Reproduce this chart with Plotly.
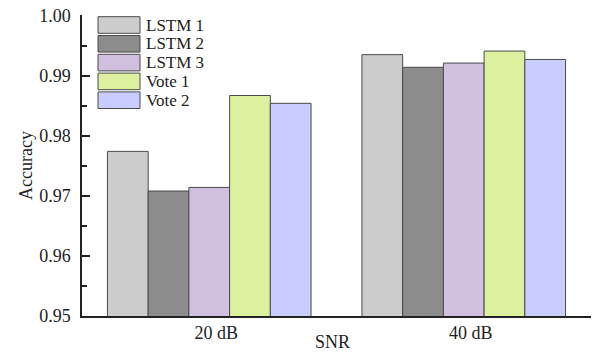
import plotly.graph_objects as go

categories = ["20 dB", "40 dB"]
series_names = ["LSTM 1", "LSTM 2", "LSTM 3", "Vote 1", "Vote 2"]
lstm1 = [0.9774, 0.9935]
lstm2 = [0.9708, 0.9914]
lstm3 = [0.9714, 0.9921]
vote1 = [0.9867, 0.9941]
vote2 = [0.9854, 0.9927]
series_values = [lstm1, lstm2, lstm3, vote1, vote2]
colors = ["#cccccc", "#8c8c8c", "#d1bfdf", "#ddf0a0", "#c8ccfe"]
y_ticks = [0.95, 0.96, 0.97, 0.98, 0.99, 1.00]
y_ticklabels = ["0.95", "0.96", "0.97", "0.98", "0.99", "1.00"]

W, H = 592, 352
PL, PR, PT, PB = 82, 591, 15, 316          # plot area in pixels
ML, MR, MT, MB = PL, W - PR, PT, H - PB
FONT = "Liberation Serif, Times New Roman, serif"
FS = 18
LFS = 17

fig = go.Figure()
for name, vals, col in zip(series_names, series_values, colors):
    fig.add_trace(go.Bar(
        x=categories, y=vals, name=name,
        marker=dict(color=col, line=dict(color="#4a4a4a", width=1)),
        showlegend=False,
    ))

pw = PR - PL
ph = PB - PT
def px_x(px):
    return (px - PL) / pw
def px_y(py):
    return (PB - py) / ph

row0, row_h = 25, 18.8
shapes = []
annotations = []
for i, (name, col) in enumerate(zip(series_names, colors)):
    cy = row0 + i * row_h
    shapes.append(dict(
        type="rect", xref="paper", yref="paper",
        x0=px_x(98), x1=px_x(140), y0=px_y(cy + 8.3), y1=px_y(cy - 8.3),
        fillcolor=col, line=dict(color="#4a4a4a", width=1),
    ))
    annotations.append(dict(
        xref="paper", yref="paper", x=px_x(145), y=px_y(cy),
        text=name, showarrow=False, xanchor="left", yanchor="middle",
        borderpad=0,
        font=dict(family=FONT, size=LFS, color="#222"),
    ))

annotations.append(dict(
    xref="paper", yref="paper", x=px_x(332), y=px_y(342),
    text="SNR", showarrow=False, xanchor="center", yanchor="middle",
    font=dict(family=FONT, size=FS, color="#222"),
))
annotations.append(dict(
    xref="paper", yref="paper", x=px_x(26), y=px_y(166),
    text="Accuracy", showarrow=False, xanchor="center", yanchor="middle",
    textangle=-90,
    font=dict(family=FONT, size=FS, color="#222"),
))

fig.update_layout(
    width=W, height=H,
    margin=dict(l=ML, r=MR, t=MT, b=MB, pad=0),
    paper_bgcolor="white", plot_bgcolor="white",
    barmode="group", bargap=0.2, bargroupgap=0,
    font=dict(family=FONT, size=FS, color="#222"),
    shapes=shapes, annotations=annotations,
    xaxis=dict(
        range=[-0.5, 1.5], showline=True, linecolor="#222", linewidth=1.5,
        ticks="", showgrid=False, zeroline=False, automargin=False,
        ticklabelshift=7,
    ),
    yaxis=dict(
        range=[0.95, 1.0001], showline=True, linecolor="#222", linewidth=1.5,
        ticks="inside", ticklen=8, tickwidth=1.5, tickcolor="#222",
        tickvals=y_ticks, ticktext=y_ticklabels, automargin=False,
        ticklabelstandoff=6, ticklabeloverflow="allow",
        minor=dict(ticks="inside", ticklen=5, dtick=0.005, tickcolor="#222", tickwidth=1.5),
        showgrid=False, zeroline=False,
    ),
)

fig.write_html(
    "out.html",
    config={"displayModeBar": False},
    post_script="document.body.style.margin='0';document.body.style.overflow='hidden';",
)
